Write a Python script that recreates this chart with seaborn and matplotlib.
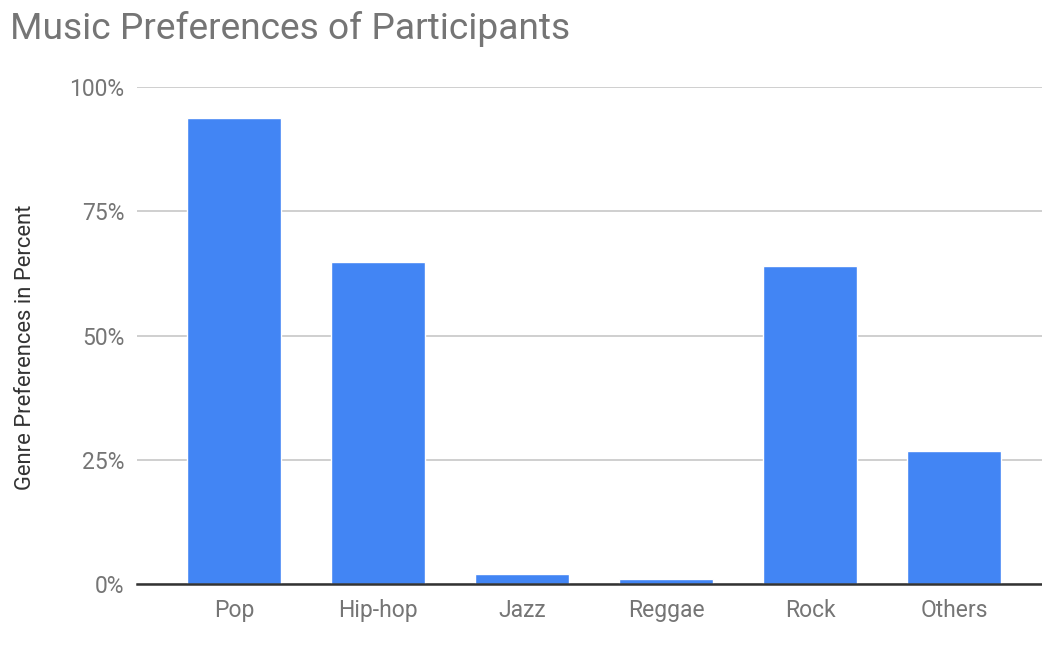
import matplotlib
matplotlib.use("Agg")
import matplotlib.pyplot as plt
import seaborn as sns
import pandas as pd

genres = ["Pop", "Hip-hop", "Jazz", "Reggae", "Rock", "Others"]
percent = [93.8, 64.8, 2.0, 1.0, 64.0, 26.8]
y_ticks = [0, 25, 50, 75, 100]
y_tick_labels = ["0%", "25%", "50%", "75%", "100%"]

sns.set_theme(style="white")
plt.rcParams["font.family"] = ["Roboto", "DejaVu Sans"]

TEXT = "#757575"
BAR = "#4285F4"

df = pd.DataFrame({"genre": genres, "percent": percent})

fig = plt.figure(figsize=(10.42, 6.54), dpi=100)
ax = fig.add_axes([0.1315, 0.107, 0.8685, 0.760])

sns.barplot(data=df, x="genre", y="percent", color=BAR, saturation=1,
            width=0.65, ax=ax, zorder=3)

ax.set_ylim(0, 100)
ax.set_xlim(-0.674, 5.61)
ax.set_yticks(y_ticks)
ax.set_yticklabels(y_tick_labels)
ax.yaxis.grid(True, color="#cccccc", linewidth=1.3, zorder=0)
ax.set_axisbelow(True)
for s in ["top", "right", "left"]:
    ax.spines[s].set_visible(False)
ax.spines["bottom"].set_color("#333333")
ax.spines["bottom"].set_linewidth(1.8)
ax.spines["bottom"].set_zorder(4)

ax.tick_params(axis="both", length=0, labelsize=16.5, colors=TEXT)
ax.tick_params(axis="y", pad=9)
ax.tick_params(axis="x", pad=11)
ax.set_xlabel("")
ax.set_ylabel("Genre Preferences in Percent", fontsize=15.8, color="#333333")
ax.yaxis.set_label_coords(-0.112, 0.477)

fig.text(0.0095, 0.955, "Music Preferences of Participants", fontsize=26.7,
         color=TEXT, ha="left", va="center")

fig.savefig("out.png", dpi=100)
